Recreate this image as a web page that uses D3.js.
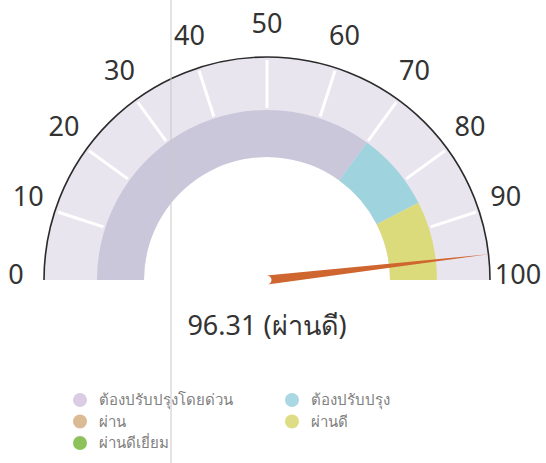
<!DOCTYPE html>
<html>
<head>
<meta charset="utf-8">
<script src="https://cdn.jsdelivr.net/npm/d3@7"></script>
<style>
  body { margin: 0; background: #fff; }
  text { font-family: "Noto Sans", "DejaVu Sans", sans-serif; }
</style>
</head>
<body>
<script>
const width = 546;
const height = 463;

// gauge data
const gaugeValue = 96.31;
const gaugeLabel = 'ผ่านดี';
const tickValues = [0, 10, 20, 30, 40, 50, 60, 70, 80, 90, 100];
const bandStarts = [0, 70, 85];
const bandEnds = [70, 85, 100];
const bandColors = ['#cbc7da', '#9fd4df', '#dcdb7c'];

// legend
const legendNames = ['ต้องปรับปรุงโดยด่วน', 'ต้องปรับปรุง', 'ผ่าน', 'ผ่านดี', 'ผ่านดีเยี่ยม'];
const legendColors = ['#d9cce3', '#a9d7e3', '#dbbb93', '#dedd86', '#8dc25a'];

const cx = 267, cy = 280;
const rOuter = 223, rBandOut = 170, rInner = 123;

const svg = d3.select('body').append('svg')
    .attr('width', width)
    .attr('height', height);

// value -> angle (radians, d3.arc convention: 0 = up, clockwise)
const angle = d3.scaleLinear().domain([0, 100]).range([-Math.PI / 2, Math.PI / 2]);

const g = svg.append('g').attr('transform', `translate(${cx},${cy})`);

const arc = d3.arc();

// light background
g.append('path')
    .attr('d', arc({innerRadius: rInner, outerRadius: rOuter, startAngle: angle(0), endAngle: angle(100)}))
    .attr('fill', '#e9e5ef');

// coloured bands
g.selectAll('path.band')
    .data(bandStarts)
    .enter()
    .append('path')
    .attr('class', 'band')
    .attr('d', (d, i) => arc({innerRadius: rInner, outerRadius: rBandOut, startAngle: angle(d), endAngle: angle(bandEnds[i])}))
    .attr('fill', (d, i) => bandColors[i]);

// white tick marks
g.selectAll('line.tick')
    .data(tickValues.slice(1, -1))
    .enter()
    .append('line')
    .attr('x1', d => Math.sin(angle(d)) * (rBandOut + 2))
    .attr('y1', d => -Math.cos(angle(d)) * (rBandOut + 2))
    .attr('x2', d => Math.sin(angle(d)) * (rOuter - 3))
    .attr('y2', d => -Math.cos(angle(d)) * (rOuter - 3))
    .attr('stroke', '#fff')
    .attr('stroke-width', 3);

// outer line
const outline = d3.path();
outline.arc(0, 0, rOuter, Math.PI, 0);
g.append('path')
    .attr('d', outline.toString())
    .attr('fill', 'none')
    .attr('stroke', '#2b2b2b')
    .attr('stroke-width', 1.6);

// tick labels
g.selectAll('text.lbl')
    .data(tickValues)
    .enter()
    .append('text')
    .attr('x', d => Math.sin(angle(d)) * 251)
    .attr('y', d => -Math.cos(angle(d)) * 251 - 7)
    .attr('text-anchor', 'middle')
    .attr('dominant-baseline', 'central')
    .attr('font-size', 27)
    .attr('fill', '#333')
    .text(d => d);

// needle
const a = angle(gaugeValue);
const tipX = Math.sin(a) * rOuter, tipY = -Math.cos(a) * rOuter;
const nx = Math.cos(a), ny = Math.sin(a);
const w = 4.5;
g.append('path')
    .attr('d', `M${nx * w},${ny * w} L${tipX},${tipY} L${-nx * w},${-ny * w} A${w},${w} 0 0 1 ${nx * w},${ny * w} Z`)
    .attr('fill', '#cf652f');

// value text
svg.append('text')
    .attr('x', cx)
    .attr('y', 335)
    .attr('text-anchor', 'middle')
    .attr('font-size', 27)
    .attr('fill', '#333')
    .text(`${gaugeValue} (${gaugeLabel})`);

// legend
const legend = svg.append('g');
const items = legend.selectAll('g')
    .data(legendNames)
    .enter()
    .append('g')
    .attr('transform', (d, i) => `translate(${i % 2 === 0 ? 80 : 292},${400 + Math.floor(i / 2) * 21.5})`);

items.append('circle')
    .attr('r', 7)
    .attr('fill', (d, i) => legendColors[i]);

items.append('text')
    .attr('x', 19)
    .attr('dy', '0.35em')
    .attr('font-size', 15)
    .attr('fill', '#808080')
    .text(d => d);

// thin vertical guide line
svg.append('line')
    .attr('x1', 171).attr('x2', 171)
    .attr('y1', 0).attr('y2', height)
    .attr('stroke', '#c8c8c8')
    .attr('stroke-width', 1);
</script>
</body>
</html>
